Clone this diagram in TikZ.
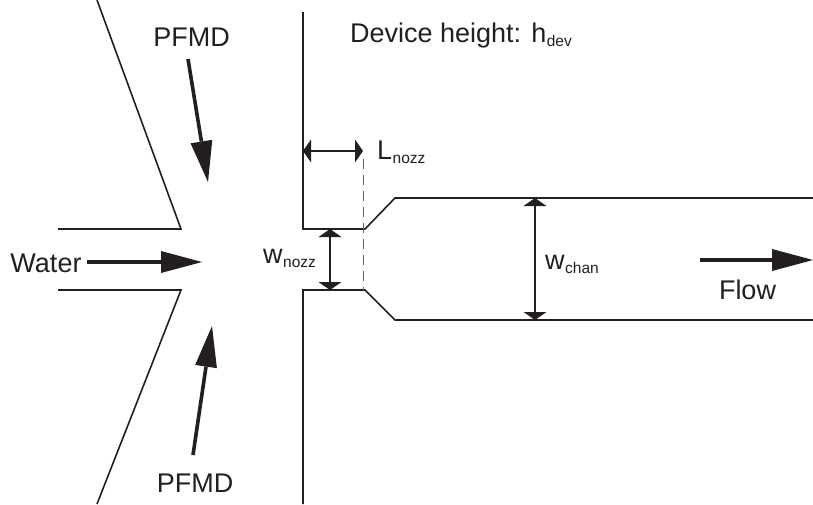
\documentclass[tikz,border=0pt]{standalone}
\usepackage{fontspec}
\setmainfont{Liberation Sans}
\usetikzlibrary{arrows.meta}
\definecolor{ink}{HTML}{231F20}
\tikzset{
  wall/.style={draw=ink,line width=1.6pt,line cap=butt,line join=miter},
  bigarrow/.style={draw=ink,fill=ink,line width=3.6pt,-{Triangle[length=41pt,width=22pt,line width=0pt]}},
  dimarrow/.style={draw=ink,line width=1.7pt,{Triangle[length=8pt,width=23pt,line width=0pt]}-{Triangle[length=8pt,width=23pt,line width=0pt]}},
  lbl/.style={inner sep=0pt,text=ink,font=\fontsize{27pt}{29pt}\selectfont},
}
\newcommand{\sbs}[1]{\kern0.5pt\raisebox{-4pt}{\fontsize{15.5pt}{16pt}\selectfont #1}}
\begin{document}
\begin{tikzpicture}[x=1pt,y=-1pt]
\useasboundingbox (0,0) rectangle (813,504);
\coordinate (a1) at (97,0);
\coordinate (a2) at (181,229);
\coordinate (a3) at (58,229);
\coordinate (b1) at (58,290);
\coordinate (b2) at (181,290);
\coordinate (b3) at (97,504);
\draw[wall] (a1) -- (a2) -- (a3);
\draw[wall] (b1) -- (b2) -- (b3);
\coordinate (c1) at (303,12);
\coordinate (c2) at (303,229);
\coordinate (c3) at (365,229);
\coordinate (c4) at (395,198);
\coordinate (c5) at (813,198);
\coordinate (d1) at (303,504);
\coordinate (d2) at (303,290);
\coordinate (d3) at (365,290);
\coordinate (d4) at (395,320);
\coordinate (d5) at (813,320);
\draw[wall] (c1) -- (c2) -- (c3) -- (c4) -- (c5);
\draw[wall] (d1) -- (d2) -- (d3) -- (d4) -- (d5);
\coordinate (n1) at (363,159);
\coordinate (n2) at (363,290);
\draw[draw=ink!70,line width=0.9pt,dash pattern=on 10pt off 6pt] (n1) -- (n2);
\coordinate (lA) at (303,151);
\coordinate (lB) at (363,151);
\draw[dimarrow] (lA) -- (lB);
\coordinate (wA) at (330,229);
\coordinate (wB) at (330,290);
\draw[dimarrow] (wA) -- (wB);
\coordinate (cA) at (535,198);
\coordinate (cB) at (535,320);
\draw[dimarrow] (cA) -- (cB);
\coordinate (p1) at (188,59);
\coordinate (p2) at (208,182);
\draw[bigarrow] (p1) -- (p2);
\coordinate (q1) at (193,455);
\coordinate (q2) at (212,326);
\draw[bigarrow] (q1) -- (q2);
\node[lbl,anchor=base] (water) at (46,272) {Water};
\coordinate (r1) at (87,262);
\coordinate (r2) at (202,262);
\draw[bigarrow] (r1) -- (r2);
\coordinate (f1) at (700,260);
\coordinate (f2) at (813,260);
\draw[bigarrow] (f1) -- (f2);
\node[lbl,anchor=base] (pfmdt) at (191.5,46) {PFMD};
\node[lbl,anchor=base] (pfmdb) at (195,492) {PFMD};
\node[lbl,anchor=base west] (dev) at (350,42) {Device height: h\sbs{dev}};
\node[lbl,anchor=base west] (lnozz) at (377,159) {L\sbs{nozz}};
\node[lbl,anchor=base west] (wnozz) at (263,263) {w\sbs{nozz}};
\node[lbl,anchor=base west] (wchan) at (545,269) {w\sbs{chan}};
\node[lbl,anchor=base] (flow) at (747.5,299) {Flow};
\end{tikzpicture}
\end{document}
